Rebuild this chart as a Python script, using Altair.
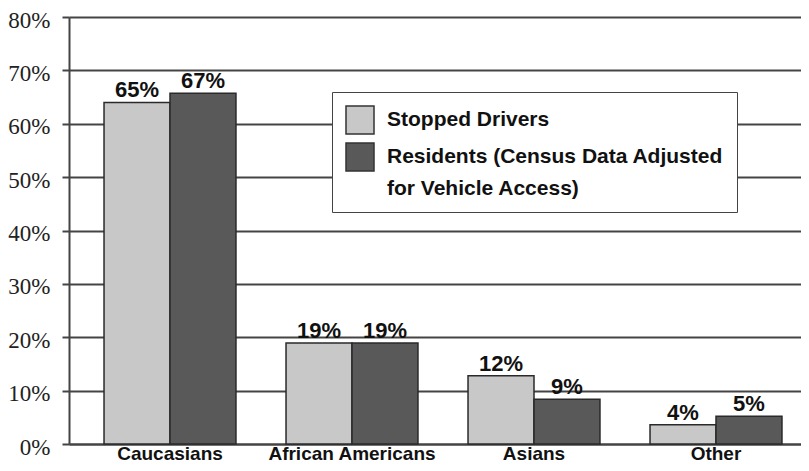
import altair as alt
import pandas as pd

categories = ["Caucasians", "African Americans", "Asians", "Other"]
series = ["Stopped Drivers", "Residents (Census Data Adjusted for Vehicle Access)"]
stopped = [64.0, 18.9, 12.8, 3.6]
residents = [65.7, 18.9, 8.4, 5.2]
stopped_labels = ["65%", "19%", "12%", "4%"]
residents_labels = ["67%", "19%", "9%", "5%"]
y_ticks = [0, 10, 20, 30, 40, 50, 60, 70, 80]
colors = ["#c8c8c8", "#595959"]

rows = []
for i, c in enumerate(categories):
    rows.append({"cat": c, "series": series[0], "value": stopped[i], "label": stopped_labels[i]})
    rows.append({"cat": c, "series": series[1], "value": residents[i], "label": residents_labels[i]})
df = pd.DataFrame(rows)

LABEL_FONT = "Liberation Sans"

x_enc = alt.X("cat:N", sort=categories,
              scale=alt.Scale(paddingInner=0.275, paddingOuter=0.1485, align=0.648),
              axis=alt.Axis(title=None, labelAngle=0, ticks=False, labelFont=LABEL_FONT,
                            labelFontWeight="bold", labelFontSize=19, labelColor="#111",
                            labelPadding=15, labelBaseline="alphabetic", labelLineHeight=19,
                            domainColor="#444", domainWidth=2, grid=False))
xoff = alt.XOffset("series:N", sort=series, scale=alt.Scale(paddingInner=0, paddingOuter=0))
y_enc = alt.Y("value:Q", scale=alt.Scale(domain=[0, 80], nice=False),
              axis=alt.Axis(title=None, values=y_ticks, labelExpr="datum.value + '%'",
                            labelFont="Liberation Sans Narrow", labelFontSize=23, labelColor="#222",
                            labelLineHeight=23,
                            labelPadding=12, tickSize=7, tickColor="#444", tickWidth=2,
                            gridColor="#444", gridWidth=2, domainColor="#444", domainWidth=2,
                            labelOffset=3))

bars = alt.Chart(df).mark_bar(stroke="#2a2a2a", strokeWidth=1.5).encode(
    x=x_enc, xOffset=xoff, y=y_enc,
    color=alt.Color("series:N", sort=series,
                    scale=alt.Scale(domain=series, range=colors),
                    legend=alt.Legend(
                        title=None, orient="none", legendX=263, legendY=75,
                        direction="vertical", strokeColor="#444", fillColor="white",
                        padding=13, symbolType="square", symbolSize=784,
                        symbolStrokeColor="#333", symbolStrokeWidth=1.5,
                        labelFont=LABEL_FONT, labelFontWeight="bold", labelFontSize=21,
                        labelColor="#111", labelLimit=0, labelOffset=12, rowPadding=3,
                        labelExpr="datum.label == 'Residents (Census Data Adjusted for Vehicle Access)' ? ['Residents (Census Data Adjusted', 'for Vehicle Access)'] : datum.label"))
)

texts = alt.Chart(df).mark_text(font=LABEL_FONT, fontWeight="bold", fontSize=22, color="#111",
                                baseline="alphabetic", dy=-5).encode(
    x=alt.X("cat:N", sort=categories), xOffset=alt.XOffset("series:N", sort=series), y="value:Q",
    text="label:N")

chart = alt.layer(bars, texts).properties(
    width=732, height=427,
    autosize=alt.AutoSizeParams(type="none"),
    padding={"left": 61, "top": 9, "right": 0, "bottom": 19},
).configure_view(stroke=None).configure_legend(strokeWidth=2).configure(
    background="white",
    style={"guide-label": {"lineHeight": 32}},
)

chart.save("out.html", embed_options={"renderer": "svg", "actions": False})
